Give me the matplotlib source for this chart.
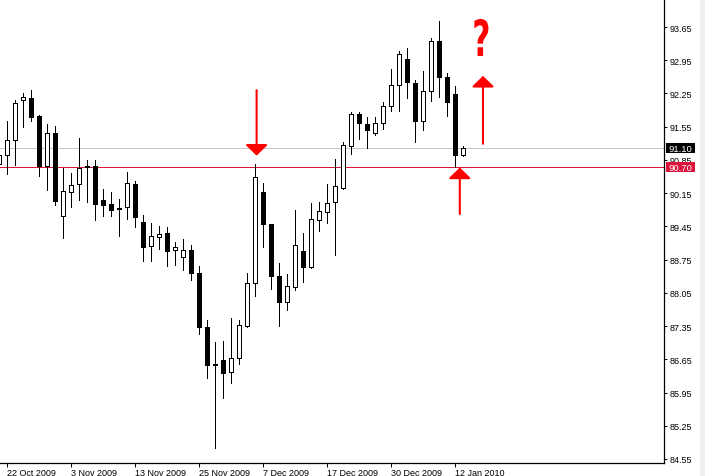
import numpy as np
import pandas as pd
import matplotlib
matplotlib.use('Agg')
import matplotlib.pyplot as plt
import matplotlib.transforms as mtransforms
from matplotlib.patches import Rectangle, PathPatch
from matplotlib.textpath import TextPath
from matplotlib.font_manager import FontProperties

# daily bars, 21 Oct 2009 .. 13 Jan 2010 (no bars on 25 Dec / 1 Jan)
dates = [d for d in pd.bdate_range('2009-10-21', '2010-01-13')
         if d.strftime('%m-%d') not in ('12-25', '01-01')]

opens = [90.76, 90.95, 91.26, 92.12, 92.15, 91.78, 90.73, 91.42, 89.66, 90.17,
         90.34, 90.70, 90.72, 90.01, 89.92, 89.84, 89.85, 90.34, 89.54, 89.03,
         89.23, 89.31, 88.95, 88.81, 88.95, 88.47, 87.32, 86.55, 86.63, 86.38,
         86.67, 87.35, 88.25, 90.17, 89.49, 88.40, 87.85, 88.18, 88.93, 88.60,
         89.58, 89.75, 89.96, 90.25, 91.15, 91.81, 91.61, 91.41, 91.62, 91.98,
         92.43, 92.98, 92.47, 91.66, 92.30, 93.35, 92.59, 92.23, 90.96]
highs = [91.05, 91.68, 92.12, 92.26, 92.32, 91.80, 91.61, 91.56, 90.68, 90.57,
         91.31, 90.85, 90.85, 90.24, 90.17, 90.03, 90.59, 90.41, 89.69, 89.52,
         89.46, 89.44, 89.12, 89.18, 89.06, 88.61, 87.48, 87.01, 87.04, 87.51,
         87.47, 88.47, 90.76, 90.36, 89.50, 88.68, 88.44, 89.80, 89.31, 89.94,
         89.97, 90.34, 90.87, 91.22, 91.86, 91.86, 91.75, 91.75, 92.08, 92.77,
         93.14, 93.20, 92.53, 92.72, 93.42, 93.78, 92.68, 92.41, 91.14]
lows = [90.70, 90.55, 90.74, 91.55, 91.68, 90.52, 90.22, 89.89, 89.20, 89.85,
        90.01, 89.97, 89.59, 89.66, 89.66, 89.25, 89.61, 89.44, 88.73, 88.71,
        88.97, 88.62, 88.64, 88.53, 88.33, 87.19, 86.26, 84.79, 85.84, 86.14,
        86.56, 87.34, 87.98, 89.02, 88.13, 87.35, 87.69, 88.11, 88.28, 88.57,
        89.36, 89.53, 88.85, 90.24, 90.98, 91.29, 91.11, 91.38, 91.50, 91.89,
        91.89, 92.16, 91.23, 91.48, 92.10, 92.18, 91.78, 90.70, 90.93]
closes = [90.95, 91.26, 92.05, 92.17, 91.76, 90.73, 91.42, 89.99, 90.19, 90.32,
          90.69, 90.72, 89.93, 89.91, 89.79, 89.81, 90.36, 89.64, 89.02, 89.24,
          89.28, 88.94, 89.01, 88.96, 88.47, 87.32, 86.54, 86.54, 86.37, 86.67,
          87.37, 88.25, 90.48, 89.49, 88.41, 87.85, 88.19, 89.06, 88.60, 89.60,
          89.77, 89.94, 90.31, 91.16, 91.82, 91.62, 91.49, 91.62, 91.98, 92.43,
          93.08, 92.49, 91.68, 92.30, 93.35, 92.59, 92.06, 90.96, 91.10]

date_labels = ['22 Oct 2009', '3 Nov 2009', '13 Nov 2009', '25 Nov 2009',
               '7 Dec 2009', '17 Dec 2009', '30 Dec 2009', '12 Jan 2010']
price_ticks = [93.65, 92.95, 92.25, 91.55, 90.85, 90.15, 89.45, 88.75,
               88.05, 87.35, 86.65, 85.95, 85.25, 84.55]

bid_price = 91.10
level_price = 90.70

# drawn annotations: (bar position, tail price, tip price)
arrows = [(32.2, 92.32, 90.94), (57.6, 89.71, 90.69), (60.5, 91.19, 92.62)]


def main():
    plt.rcParams['font.family'] = 'Liberation Sans'
    fig = plt.figure(figsize=(7.05, 4.77), dpi=100)
    fig.patch.set_facecolor('white')
    fig.patches.append(Rectangle((700 / 705, 0), 5 / 705, 1, transform=fig.transFigure,
                                 facecolor='#f1f1f1', edgecolor='none'))
    ax = fig.add_axes([0, 13 / 477, 664 / 705, 464 / 477])

    x = np.arange(len(dates))
    o = np.array(opens)
    c = np.array(closes)
    up = c >= o

    # wicks then bodies, crisp 1px strokes like a terminal screenshot
    ax.vlines(x, lows, highs, color='black', linewidth=0.72, zorder=2, antialiased=False)
    ax.bar(x[up], (c - o)[up], bottom=o[up], width=0.56, color='white',
           edgecolor='black', linewidth=0.72, zorder=3, antialiased=False)
    ax.bar(x[~up], (o - c)[~up], bottom=c[~up], width=0.56, color='black',
           edgecolor='black', linewidth=0.72, zorder=3, antialiased=False)

    ax.axhline(bid_price, color='#c8c8c8', linewidth=0.72, zorder=1, antialiased=False)
    ax.axhline(level_price, color='#dc143c', linewidth=0.72, zorder=1, antialiased=False)

    ax.set_xlim(0.125, 83.125)
    ax.set_ylim(84.465, 94.24)

    for sp in ['top', 'left']:
        ax.spines[sp].set_visible(False)
    for sp in ['right', 'bottom']:
        ax.spines[sp].set_linewidth(0.9)

    ax.yaxis.tick_right()
    ax.set_yticks(price_ticks)
    ax.set_yticklabels([f'{p:.2f}' for p in price_ticks])
    ax.tick_params(axis='y', direction='out', length=2.2, width=0.7, pad=2.0,
                   labelsize=6.5)

    fmt = [f'{d.day} {d:%b %Y}' for d in dates]
    ax.set_xticks([fmt.index(lbl) for lbl in date_labels])
    ax.set_xticklabels(date_labels)
    ax.tick_params(axis='x', direction='out', length=2.9, width=0.7, pad=0.6,
                   labelsize=6.5)
    for lbl in ax.get_xticklabels():
        lbl.set_ha('left')

    # price tags on the right axis
    tr = mtransforms.blended_transform_factory(ax.transAxes, ax.transData)
    for price, col in [(bid_price, 'black'), (level_price, '#dc143c')]:
        ax.add_patch(Rectangle((1.0025, price - 0.107), 0.0437, 0.214, transform=tr,
                               facecolor=col, edgecolor='none', clip_on=False, zorder=5))
        ax.text(1.0025 + 0.0437 / 2, price, f'{price:.2f}', transform=tr, color='white',
                fontsize=6.8, ha='center', va='center', clip_on=False, zorder=6)

    # red arrows
    for xi, tail, tip in arrows:
        ax.annotate('', xy=(xi, tip), xytext=(xi, tail),
                    arrowprops=dict(arrowstyle='-|>,head_length=0.66,head_width=0.68',
                                    color='#ff0000', lw=1.5, mutation_scale=10,
                                    shrinkA=0, shrinkB=0), zorder=7)

    # hand-drawn looking question mark, squeezed narrow
    tp = TextPath((0, 0), '?', size=1, prop=FontProperties(family='DejaVu Sans', weight='bold'))
    ext = tp.get_extents()
    px, py = ax.transData.transform((60.3, 93.82))
    qt = (mtransforms.Affine2D()
          .translate(-(ext.x0 + ext.width / 2), -ext.y1)
          .scale(14 / ext.width, 37 / ext.height)
          .translate(px, py))
    fig.add_artist(PathPatch(tp, transform=qt, facecolor='#ff0000', edgecolor='none'))

    fig.savefig('out.png', dpi=100)


if __name__ == "__main__":
    main()
